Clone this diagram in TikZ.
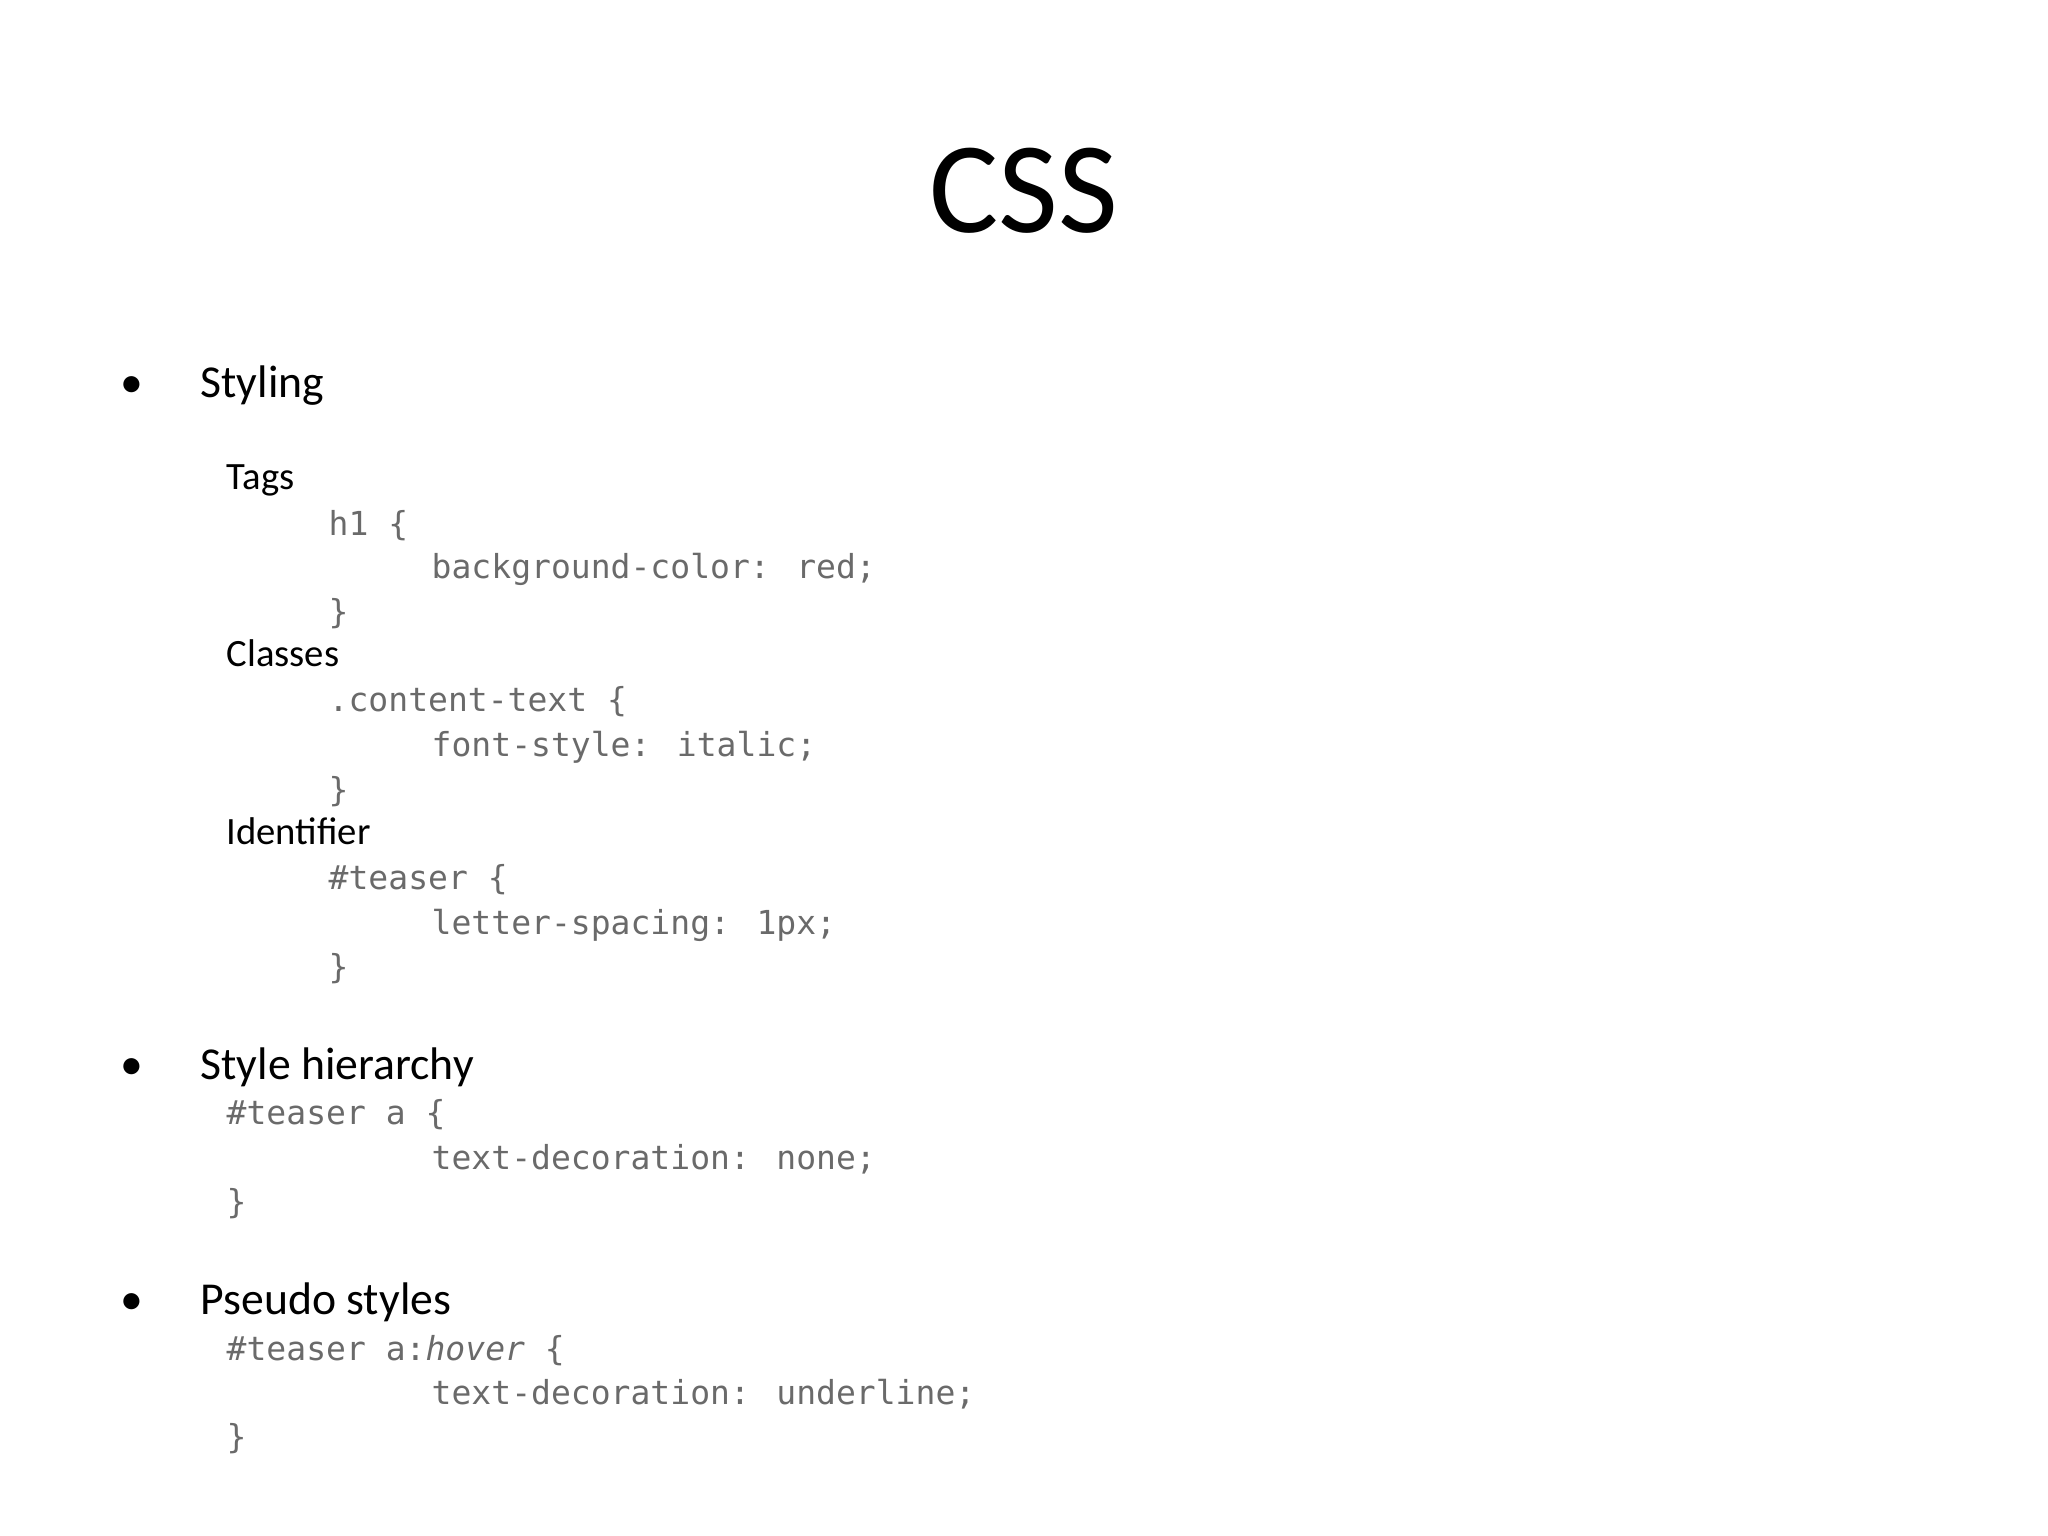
\documentclass[tikz,border=0pt]{standalone}
\usepackage{fontspec}
\setmainfont{Carlito}
\newfontfamily\codefont{DejaVu Sans Mono}
\definecolor{codegray}{HTML}{6A6A6A}
\begin{document}
\begin{tikzpicture}[x=1cm,y=-1cm,
  t/.style={anchor=base west,inner sep=0pt},
  bul/.style={t,font=\fontsize{13}{15}\selectfont},
  lab/.style={t,font=\fontsize{11}{13}\selectfont},
  code/.style={t,font=\codefont\fontsize{9.4}{11}\selectfont,text=codegray}]
\useasboundingbox (0,0) rectangle (20.48,15.36);
\node[anchor=base,inner sep=0pt,font=\fontsize{37}{40}\selectfont] (title) at (10.24,2.33) {CSS};
\node[bul] (b1) at (1.2,3.98) {\textbullet};
\node[bul] (s1) at (2.0,3.98) {Styling};
\node[lab] (l1) at (2.26,4.90) {Tags};
\node[code] (c1) at (3.28,5.35) {h1 \{};
\node[code] (c2) at (4.31,5.79) {background-color: red;};
\node[code] (c3) at (3.28,6.23) {\}};
\node[lab] (l2) at (2.26,6.67) {Classes};
\node[code] (c4) at (3.28,7.12) {.content-text \{};
\node[code] (c5) at (4.31,7.56) {font-style: italic;};
\node[code] (c6) at (3.28,8.01) {\}};
\node[lab] (l3) at (2.26,8.45) {Identifier};
\node[code] (c7) at (3.28,8.89) {\#teaser \{};
\node[code] (c8) at (4.31,9.34) {letter-spacing: 1px;};
\node[code] (c9) at (3.28,9.78) {\}};
\node[bul] (b2) at (1.2,10.79) {\textbullet};
\node[bul] (s2) at (2.0,10.79) {Style hierarchy};
\node[code] (d1) at (2.26,11.24) {\#teaser a \{};
\node[code] (d2) at (4.31,11.69) {text-decoration: none;};
\node[code] (d3) at (2.26,12.13) {\}};
\node[bul] (b3) at (1.2,13.14) {\textbullet};
\node[bul] (s3) at (2.0,13.14) {Pseudo styles};
\node[code] (e1) at (2.26,13.60) {\#teaser a:\textit{hover} \{};
\node[code] (e2) at (4.31,14.04) {text-decoration: underline;};
\node[code] (e3) at (2.26,14.48) {\}};
\end{tikzpicture}
\end{document}
